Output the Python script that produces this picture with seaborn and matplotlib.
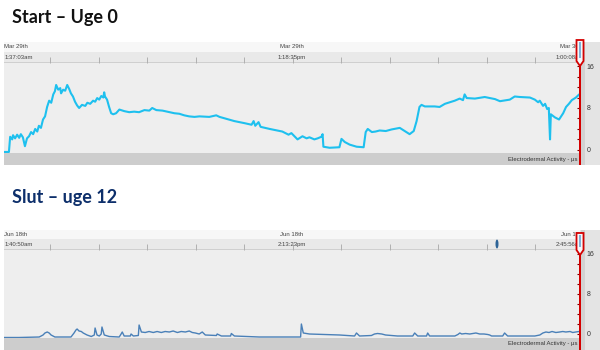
import numpy as np
import pandas as pd
import matplotlib
matplotlib.use("Agg")
import matplotlib.pyplot as plt
import seaborn as sns
from matplotlib.patches import Rectangle, Polygon, Ellipse
from matplotlib.ticker import MultipleLocator

# ---------------- data ----------------
start_title = "Start – Uge 0"
end_title = "Slut – uge 12"
start_header = [("Mar 29th", "1:37:03am"), ("Mar 29th", "1:18:35pm"), ("Mar 30th", "1:00:08am")]
end_header = [("Jun 18th", "1:40:50am"), ("Jun 18th", "2:13:23pm"), ("Jun 19th", "2:45:56am")]
y_ticks = [0, 8, 16]
channel_label = "Electrodermal Activity - µs"
start_span = 1403   # minutes shown in the first recording
end_span = 1505     # minutes shown in the second recording

start_minutes = [0, 12, 15, 20, 22, 27, 32, 37, 41, 46, 51, 56, 61, 66, 71, 76, 81, 85, 90, 95,
                 100, 105, 110, 115, 120, 124, 127, 132, 137, 139, 144, 149, 154, 159, 163, 168,
                 173, 178, 183, 190, 198, 203, 210, 217, 222, 227, 232, 237, 242, 244, 246, 251,
                 256, 261, 266, 273, 281, 293, 305, 317, 329, 342, 354, 361, 371, 386, 403, 415,
                 427, 439, 451, 464, 476, 500, 517, 525, 561, 586, 603, 608, 612, 620, 625, 647,
                 678, 693, 700, 715, 727, 737, 744, 756, 764, 773, 776, 778, 793, 817, 822, 830,
                 842, 859, 876, 881, 886, 896, 905, 915, 930, 944, 964, 976, 988, 998, 1005, 1012,
                 1017, 1025, 1049, 1061, 1074, 1086, 1098, 1110, 1118, 1122, 1127, 1147, 1171,
                 1196, 1208, 1232, 1244, 1257, 1281, 1293, 1301, 1305, 1313, 1318, 1323, 1327,
                 1330, 1332, 1342, 1352, 1362, 1369, 1376, 1383, 1393, 1401]
start_eda = [-0.4, -0.4, 2.5, 2.0, 2.8, 2.2, 2.9, 2.3, 3.0, 2.4, 0.7, 2.2, 2.6, 3.4, 3.0, 4.0,
             3.5, 4.6, 4.2, 5.8, 6.4, 8.2, 9.4, 9.0, 10.6, 11.2, 12.4, 11.5, 11.8, 10.8, 11.5,
             11.3, 12.4, 11.6, 10.8, 10.2, 9.2, 8.5, 8.0, 8.6, 8.4, 9.0, 8.8, 9.4, 9.2, 9.9, 9.6,
             10.3, 10.0, 11.0, 10.2, 9.6, 8.2, 7.0, 6.8, 7.0, 7.7, 7.4, 7.2, 7.3, 7.2, 7.6, 7.5,
             8.0, 7.6, 7.5, 7.2, 7.0, 6.9, 6.6, 6.4, 6.3, 6.4, 6.3, 6.6, 6.3, 5.5, 5.1, 4.8, 5.5,
             4.6, 5.3, 4.4, 4.0, 3.5, 2.9, 3.2, 2.0, 2.6, 2.2, 2.4, 2.0, 2.2, 2.5, 3.0, 0.6, 0.4,
             0.5, 2.1, 1.5, 1.0, 0.6, 0.5, 3.4, 4.0, 3.4, 3.5, 3.7, 3.6, 3.9, 4.2, 3.6, 3.0, 3.6,
             5.5, 8.2, 8.6, 8.3, 8.3, 8.2, 8.8, 9.1, 9.4, 9.8, 9.5, 10.6, 9.9, 9.8, 10.1, 9.7,
             9.3, 9.6, 10.2, 10.1, 10.0, 9.6, 9.1, 9.4, 8.4, 8.8, 7.8, 8.0, 2.0, 6.8, 6.2, 5.8,
             7.0, 8.2, 8.8, 9.5, 10.0, 10.6]

end_minutes = [0, 39, 92, 102, 107, 113, 118, 123, 133, 175, 183, 188, 191, 196, 202, 207, 217,
               228, 236, 238, 243, 249, 254, 256, 262, 275, 301, 306, 309, 314, 330, 332, 338,
               351, 353, 359, 369, 379, 390, 400, 411, 421, 432, 442, 453, 463, 474, 484, 492,
               500, 510, 518, 526, 555, 557, 568, 592, 594, 602, 667, 775, 777, 782, 798, 877,
               916, 921, 929, 960, 968, 976, 987, 997, 1028, 1068, 1073, 1081, 1104, 1107, 1112,
               1178, 1186, 1191, 1196, 1206, 1217, 1225, 1233, 1243, 1254, 1264, 1269, 1274,
               1303, 1308, 1316, 1387, 1400, 1408, 1416, 1424, 1432, 1442, 1452, 1460, 1468,
               1479, 1486, 1494, 1502]
end_eda = [-0.7, -0.7, -0.6, -0.2, 0.2, 0.4, 0.2, -0.2, -0.6, -0.6, 0.2, 0.8, 1.0, 0.6, 0.5,
           0.2, -0.2, -0.5, -0.2, 1.2, -0.2, -0.4, 0.0, 1.4, -0.2, -0.5, -0.6, 0.0, 0.4, -0.4,
           -0.4, 0.0, -0.4, -0.3, 1.8, 0.4, 0.3, 0.5, 0.3, 0.5, 0.3, 0.5, 0.4, 0.6, 0.3, 0.5,
           0.4, 0.6, 0.3, 0.2, 0.0, 0.4, -0.2, -0.3, 0.0, -0.4, -0.4, 0.1, -0.4, -0.6, -0.6,
           2.0, 0.2, 0.0, -0.2, -0.4, 0.2, -0.4, -0.3, 0.0, 0.1, 0.0, -0.2, -0.4, -0.4, 0.2,
           -0.4, -0.4, 0.2, -0.4, -0.4, -0.1, 0.2, 0.0, 0.1, 0.0, 0.1, 0.2, 0.0, 0.0, -0.1,
           -0.2, -0.4, -0.4, 0.2, -0.4, -0.4, -0.2, 0.2, 0.4, 0.3, 0.5, 0.3, 0.4, 0.5, 0.4,
           0.5, 0.3, 0.4, 0.5]

# ---------------- figure ----------------
sns.set_theme(style="white")
plt.rcParams["font.family"] = ["Liberation Sans", "DejaVu Sans"]

W, H = 600, 350
fig = plt.figure(figsize=(6, 3.5), dpi=100)
fig.patch.set_facecolor("white")


def fx(x):
    return x / W


def fy(y):
    return 1 - y / H


def rect(x0, y0, x1, y1, color, z=0.5):
    fig.add_artist(Rectangle((fx(x0), fy(y1)), (x1 - x0) / W, (y1 - y0) / H,
                             transform=fig.transFigure, facecolor=color,
                             edgecolor="none", zorder=z))


def panel(title, title_color, title_y, header, minutes, eda, span, color, lw,
          top, plot_top, plot_bot, bot, ylim, handle, marker_x=None):
    fig.text(fx(12), fy(title_y), title, fontsize=13, fontweight="bold",
             color=title_color, family=["Lato", "DejaVu Sans"], va="center", ha="left")
    # header band, bottom band, right strip
    rect(4, top, 580, plot_top - 11, "#f7f7f7")
    rect(4, plot_top - 11, 580, plot_top, "#e9e9e9")
    rect(4, plot_top - 0.6, 580, plot_top, "#cfcfcf", z=0.6)
    rect(4, plot_bot, 580, bot, "#cdcdcd")
    rect(580, top, 600, bot, "#e4e4e4")
    rect(581, top, 585, bot, "#d2d2d2", z=0.6)

    ax = fig.add_axes([fx(4), fy(plot_bot), (580 - 4) / W, (plot_bot - plot_top) / H])
    ax.set_zorder(1)
    ax.set_facecolor("#eeeeee")
    df = pd.DataFrame({"minutes": minutes, "eda": eda})
    sns.lineplot(data=df, x="minutes", y="eda", ax=ax, color=color, linewidth=lw,
                 estimator=None, sort=False)
    ax.set_xlim(0, span)
    ax.set_ylim(*ylim)
    for s in ax.spines.values():
        s.set_visible(False)
    ax.set_xlabel("")
    ax.set_ylabel("")
    ax.xaxis.tick_top()
    ax.set_xticks(span * np.arange(46, 576, 48.5) / 576)
    ax.tick_params(axis="x", length=4, width=0.7, color="#b0b0b0",
                   labeltop=False, labelbottom=False, direction="out")
    ax.yaxis.tick_right()
    ax.set_yticks(y_ticks)
    ax.set_yticklabels([str(v) for v in y_ticks])
    ax.yaxis.set_minor_locator(MultipleLocator(2))
    ax.tick_params(axis="y", which="both", direction="in", length=2.5, width=0.8,
                   color="#7a0000", pad=5, labelsize=5, labelcolor="#333333")

    # header texts
    xs = [(4.5, "left"), (292, "center"), (584, "right")]
    for (x, ha), (d, t) in zip(xs, header):
        fig.text(fx(x), fy(plot_top - 16), d, fontsize=4.3, color="#444444", ha=ha, va="center", zorder=2)
        fig.text(fx(x), fy(plot_top - 5.5), t, fontsize=4.3, color="#444444", ha=ha, va="center", zorder=2)
    fig.text(fx(577), fy((plot_bot + bot) / 2), channel_label, fontsize=4.3,
             color="#333333", ha="right", va="center", zorder=2)

    # red cursor line with its handle
    rect(579, plot_top - 2, 581, bot, "#d40000", z=3)
    h0, h1 = handle
    fig.add_artist(Polygon([(fx(576.5), fy(h0)), (fx(583.5), fy(h0)), (fx(583.5), fy(h1 - 5)),
                            (fx(580), fy(h1)), (fx(576.5), fy(h1 - 5))],
                           closed=True, transform=fig.transFigure, facecolor="#f4f8fb",
                           edgecolor="#d40000", linewidth=1.3, zorder=4))
    rect(579.3, h0 + 2, 580.7, h1 - 8, "#7fb3d9", z=5)

    if marker_x is not None:
        fig.add_artist(Ellipse((fx(marker_x), fy(plot_top - 6)), 3 / W, 9 / H,
                               transform=fig.transFigure, facecolor="#2d6497",
                               edgecolor="none", zorder=3))
    return ax


panel(start_title, "#111111", 18, start_header, start_minutes, start_eda, start_span,
      "#1ec0ee", 1.5, 42, 63, 153, 165, (-0.6, 16.6), (40, 66))
panel(end_title, "#0d2f6b", 197, end_header, end_minutes, end_eda, end_span,
      "#4a80b8", 1.0, 230, 250, 338, 350, (-0.8, 16.8), (233, 255), marker_x=497)

fig.savefig("out.png", dpi=100)
